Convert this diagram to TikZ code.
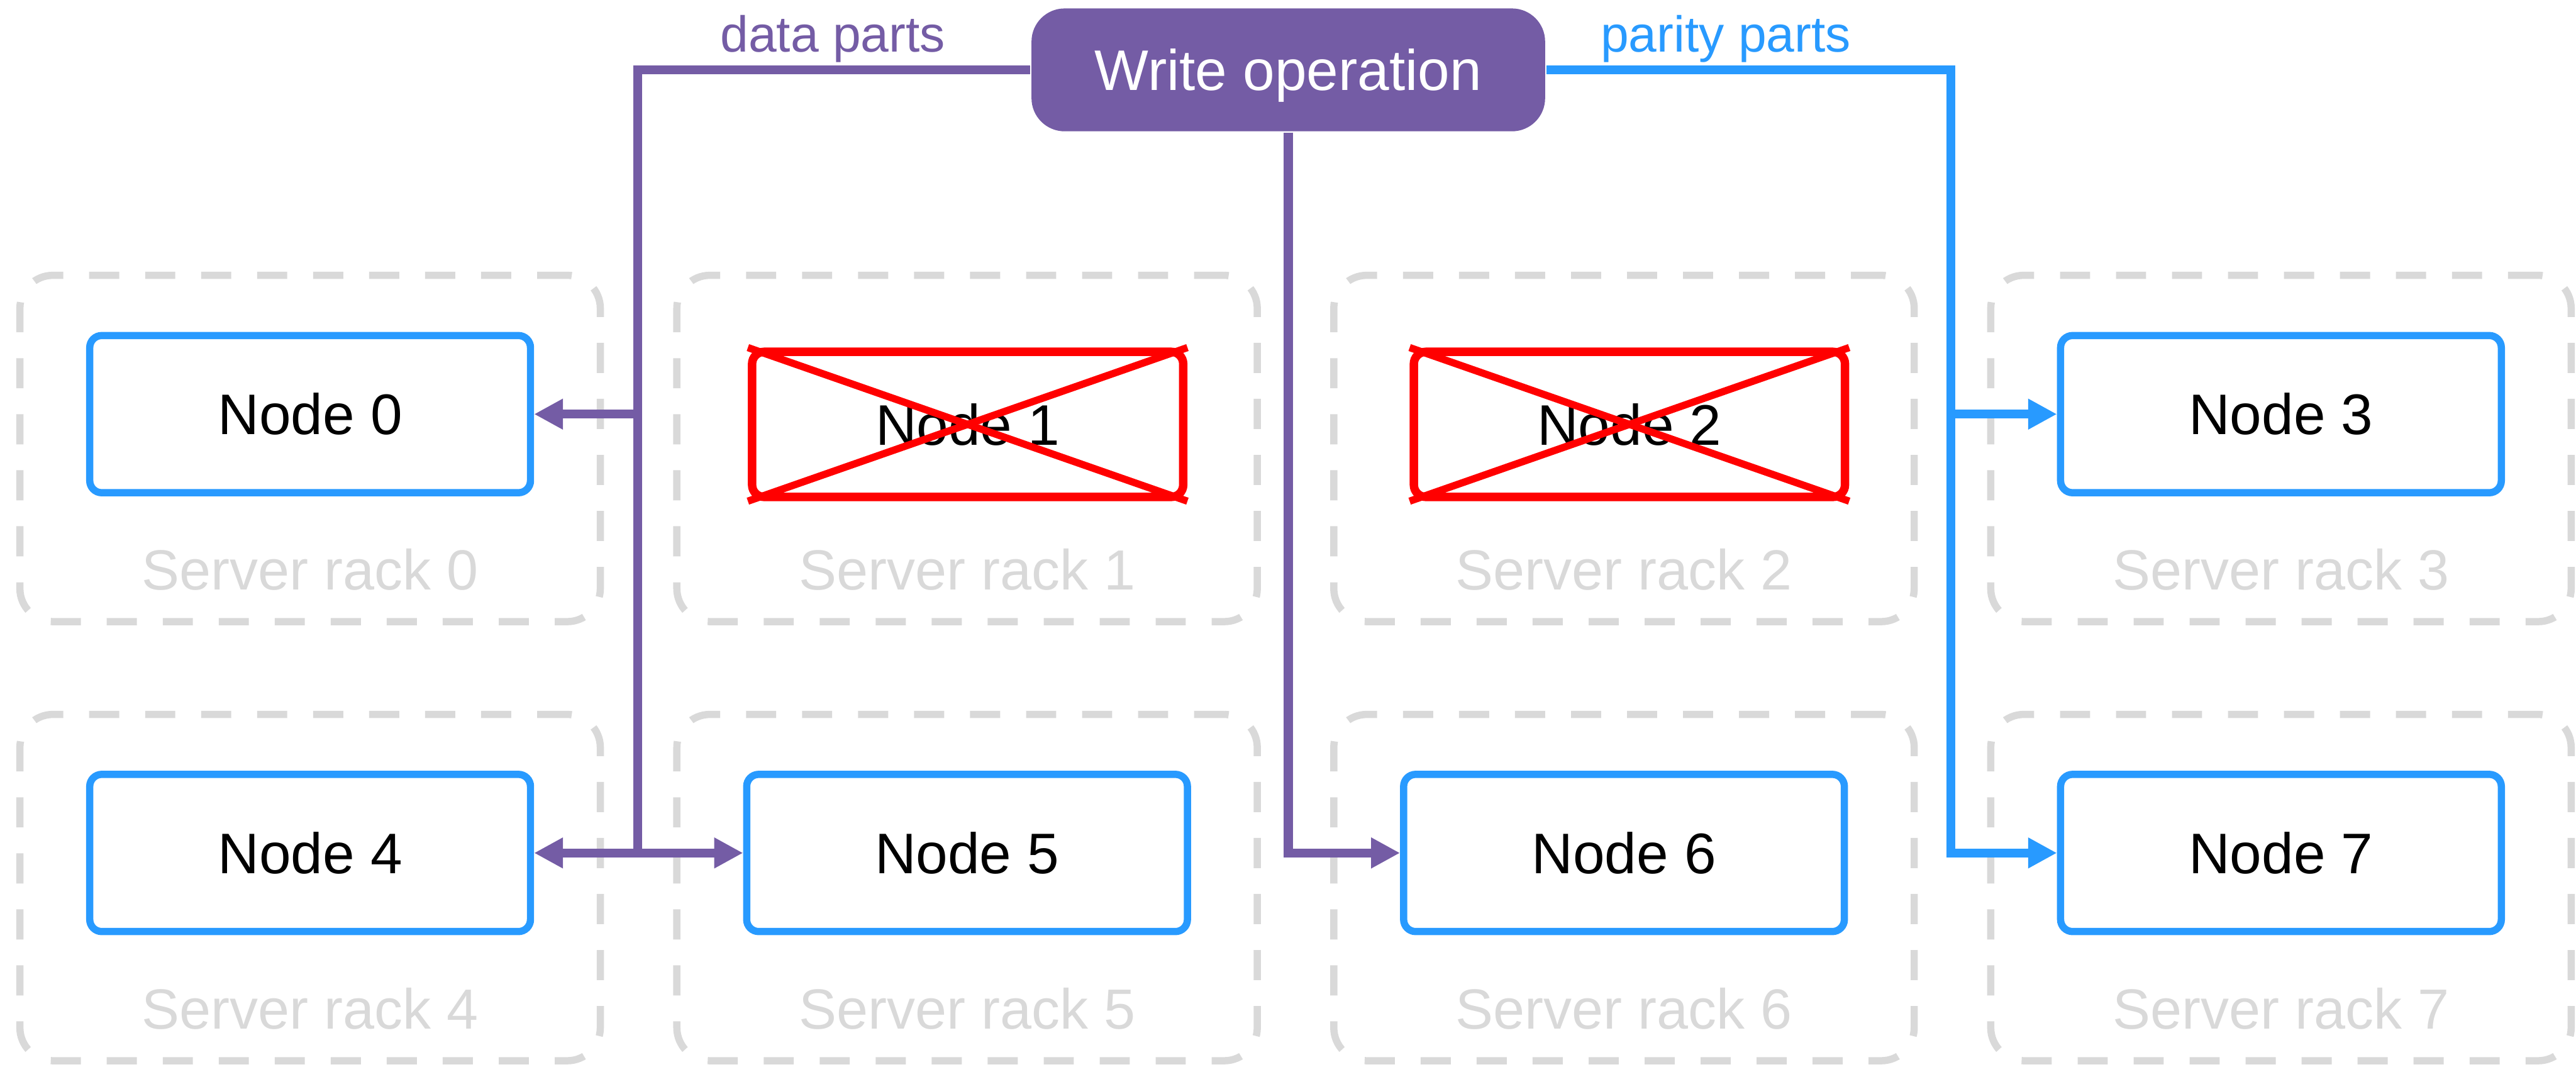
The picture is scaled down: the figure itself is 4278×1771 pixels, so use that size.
\documentclass[tikz,border=0pt]{standalone}
\usepackage{fontspec}
\setmainfont{Liberation Sans}
\usetikzlibrary{arrows.meta}
\definecolor{opPurple}{RGB}{116,92,165}
\definecolor{nodeBlue}{RGB}{40,154,255}
\definecolor{rackGray}{RGB}{217,217,217}
\definecolor{failRed}{RGB}{255,0,0}

\begin{document}
\begin{tikzpicture}[x=0.1pt,y=-0.1pt,
  rack/.style={draw=rackGray, line width=1.2pt, dash pattern=on 5pt off 4.3pt,
    rounded corners=5.5pt, minimum width=96.4pt, minimum height=57.5pt, inner sep=0pt},
  racklabel/.style={text=rackGray, font=\fontsize{9.4pt}{11pt}\selectfont,
    anchor=base, inner sep=0pt},
  storage/.style={draw=nodeBlue, line width=1.2pt, rounded corners=2pt,
    minimum width=73.2pt, minimum height=26.1pt, inner sep=0pt,
    text height=6.8pt, text depth=0pt, font=\fontsize{9.5pt}{11pt}\selectfont},
  failed/.style={draw=failRed, line width=1.4pt, rounded corners=2pt,
    minimum width=71.6pt, minimum height=24.1pt, inner sep=0pt,
    text height=6.8pt, text depth=0pt, font=\fontsize{9.5pt}{11pt}\selectfont},
  cross/.style={draw=failRed, line width=1.2pt},
  writeop/.style={fill=opPurple, text=white, rounded corners=5.5pt,
    minimum width=85.3pt, minimum height=20.4pt, inner sep=0pt,
    text height=6.8pt, text depth=0pt, font=\fontsize{9.5pt}{11pt}\selectfont},
  partlabel/.style={font=\fontsize{8.4pt}{10pt}\selectfont, anchor=base, inner sep=0pt},
  dataline/.style={draw=opPurple, line width=1.5pt},
  parityline/.style={draw=nodeBlue, line width=1.5pt},
  tip/.style={-{Triangle[length=4.8pt,width=4.8pt]}},
]
\useasboundingbox (0,0) rectangle (4278,1771);

% server racks (dashed frames) and their captions
\foreach \i/\cx in {0/515,1/1606,2/2697,3/3788}{
  \node[rack] (r\i) at (\cx,744.5) {};
  \node[racklabel] (rl\i) at (\cx,979) {Server rack \i};
}
\foreach \i/\cx in {4/515,5/1606,6/2697,7/3788}{
  \node[rack] (r\i) at (\cx,1473.5) {};
  \node[racklabel] (rl\i) at (\cx,1708) {Server rack \i};
}

% storage nodes
\node[storage] (n0) at (515,687.5) {Node 0};
\node[failed]  (n1) at (1607,704.5) {Node 1};
\node[failed]  (n2) at (2706,704.5) {Node 2};
\node[storage] (n3) at (3788,687.5) {Node 3};
\node[storage] (n4) at (515,1416) {Node 4};
\node[storage] (n5) at (1606,1416) {Node 5};
\node[storage] (n6) at (2697,1416) {Node 6};
\node[storage] (n7) at (3788,1416) {Node 7};

% failed nodes are crossed out
\draw[cross] (n1.north west) -- (n1.south east);
\draw[cross] (n1.south west) -- (n1.north east);
\draw[cross] (n2.north west) -- (n2.south east);
\draw[cross] (n2.south west) -- (n2.north east);

% write operation
\node[writeop] (w) at (2139.5,116) {Write operation};
\node[partlabel, text=opPurple] (dl) at (1383,86) {data parts};
\node[partlabel, text=nodeBlue] (pl) at (2866,86) {parity parts};

% junction points of the connectors
\coordinate (d0) at (1059,687.5);
\coordinate (db) at (1059,1416);
\coordinate (pb) at (3240,1416);
\coordinate (p3) at (3240,687.5);

% data parts
\draw[dataline] (w.west) -| (db);
\draw[dataline,tip] (d0) -- (n0.east);
\draw[dataline,tip] (db) -- (n4.east);
\draw[dataline,tip] (db) -- (n5.west);
\draw[dataline,tip] (w.south) |- (n6.west);

% parity parts
\draw[parityline,tip] (w.east) -| (pb) -- (n7.west);
\draw[parityline,tip] (p3) -- (n3.west);
\end{tikzpicture}
\end{document}
